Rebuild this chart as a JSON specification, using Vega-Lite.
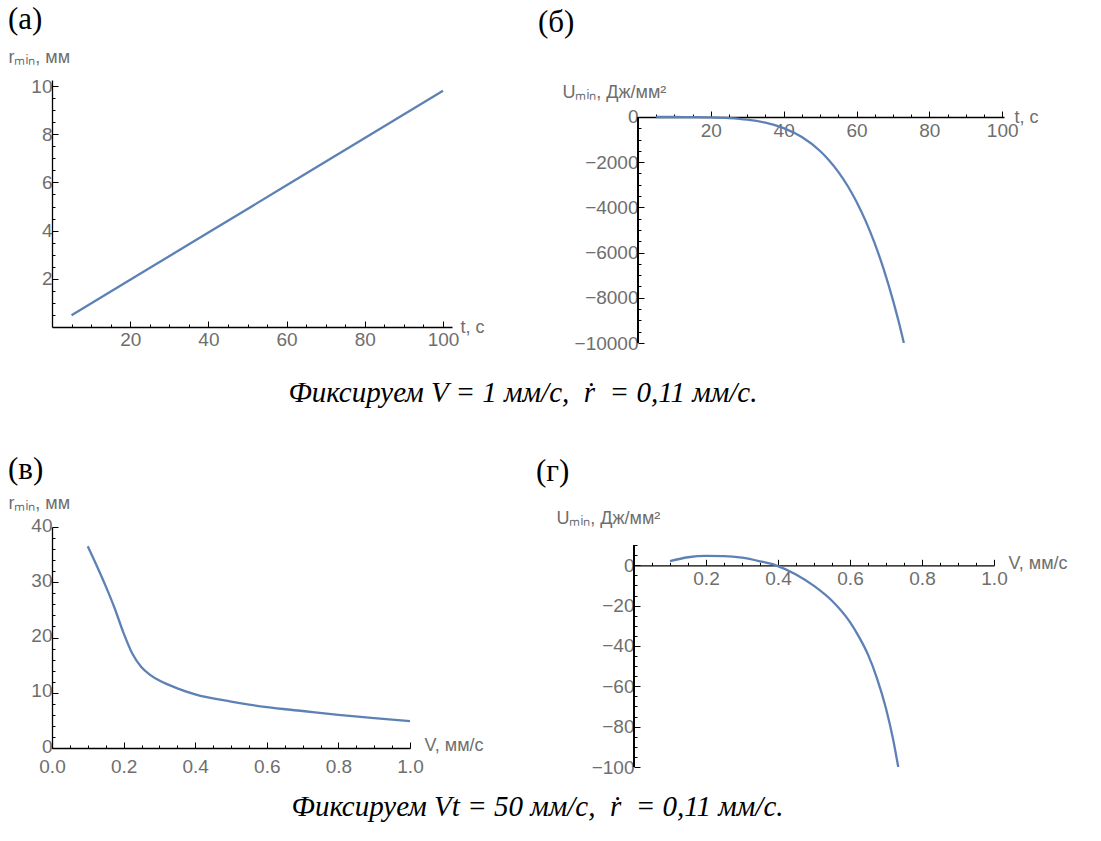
{
  "$schema": "https://vega.github.io/schema/vega-lite/v6.json",
  "background": "white",
  "padding": {"left": 8, "top": 4, "right": 5, "bottom": 5},
  "datasets": {
    "a": [{"t": 5, "r": 0.49}, {"t": 20, "r": 1.96}, {"t": 40, "r": 3.92}, {"t": 60, "r": 5.88}, {"t": 80, "r": 7.84}, {"t": 100, "r": 9.8}],
    "b": [{"t": 5, "U": 0}, {"t": 10, "U": -0.5}, {"t": 15, "U": -4}, {"t": 20, "U": -15}, {"t": 25, "U": -47}, {"t": 30, "U": -117}, {"t": 35, "U": -253}, {"t": 40, "U": -494}, {"t": 45, "U": -889}, {"t": 50, "U": -1506}, {"t": 52.5, "U": -1922}, {"t": 55, "U": -2425}, {"t": 57.5, "U": -3030}, {"t": 60, "U": -3748}, {"t": 62.5, "U": -4597}, {"t": 65, "U": -5592}, {"t": 67.5, "U": -6754}, {"t": 70, "U": -8101}, {"t": 71.5, "U": -9007}, {"t": 72.5, "U": -9655}, {"t": 73, "U": -10000}],
    "c": [{"V": 0.1, "r": 36.5}, {"V": 0.125, "r": 33}, {"V": 0.15, "r": 29.3}, {"V": 0.175, "r": 25.3}, {"V": 0.2, "r": 20.8}, {"V": 0.225, "r": 17}, {"V": 0.25, "r": 14.6}, {"V": 0.275, "r": 13.2}, {"V": 0.3, "r": 12.2}, {"V": 0.35, "r": 10.8}, {"V": 0.4, "r": 9.7}, {"V": 0.5, "r": 8.4}, {"V": 0.6, "r": 7.4}, {"V": 0.7, "r": 6.7}, {"V": 0.8, "r": 6.0}, {"V": 0.9, "r": 5.4}, {"V": 1.0, "r": 4.85}],
    "d": [{"V": 0.1, "U": 2.1}, {"V": 0.15, "U": 4.0}, {"V": 0.2, "U": 4.7}, {"V": 0.25, "U": 4.6}, {"V": 0.3, "U": 3.8}, {"V": 0.35, "U": 2.0}, {"V": 0.394, "U": 0}, {"V": 0.45, "U": -4.5}, {"V": 0.5, "U": -10.2}, {"V": 0.55, "U": -17.6}, {"V": 0.6, "U": -28.2}, {"V": 0.625, "U": -35.5}, {"V": 0.65, "U": -44.3}, {"V": 0.675, "U": -56}, {"V": 0.7, "U": -71}, {"V": 0.72, "U": -86.5}, {"V": 0.734, "U": -100}]
  },
  "spacing": 46,
  "vconcat": [
    {
      "spacing": 53,
      "title": {"text": "Фиксируем V = 1 мм/с,\u00a0 ṙ \u00a0= 0,11 мм/с.", "orient": "bottom", "anchor": "middle", "offset": 26, "font": "Liberation Serif", "fontStyle": "italic", "fontSize": 29, "fontWeight": "normal", "color": "#000"},
      "hconcat": [
        {
          "width": 400, "height": 247,
          "title": {"text": "(а)", "anchor": "start", "frame": "group", "dx": -44, "offset": 12, "font": "Liberation Serif", "fontSize": 31, "fontWeight": "normal", "color": "#000"},
          "data": {"name": "a"},
          "layer": [
            {
              "mark": {"type": "line", "color": "#5e81b5", "strokeWidth": 2.3},
              "encoding": {
                "x": {"field": "t", "type": "quantitative", "scale": {"domain": [0, 102.3], "nice": false},
                  "axis": {"values": [20, 40, 60, 80, 100], "tickSize": -6, "labelPadding": 9, "title": "t, с", "titleX": 408, "titleY": 0, "titleAlign": "left", "titleBaseline": "middle"}},
                "y": {"field": "r", "type": "quantitative", "scale": {"domain": [0, 10.25], "nice": false},
                  "axis": {"values": [2, 4, 6, 8, 10], "tickSize": -6, "labelPadding": 6, "title": "rₘᵢₙ, мм", "titleX": -44, "titleY": -18, "titleAlign": "left", "titleBaseline": "alphabetic", "titleAngle": 0}}
              }
            },
            {
              "mark": {"type": "line", "opacity": 0},
              "encoding": {
                "x": {"field": "t", "type": "quantitative", "scale": {"domain": [0, 102.3], "nice": false},
                  "axis": {"orient": "bottom", "values": [5, 10, 15, 25, 30, 35, 45, 50, 55, 65, 70, 75, 85, 90, 95], "tickSize": -3, "labels": false, "domain": false, "title": null}},
                "y": {"field": "r", "type": "quantitative", "scale": {"domain": [0, 10.25], "nice": false},
                  "axis": {"orient": "left", "values": [0.5, 1, 1.5, 2.5, 3, 3.5, 4.5, 5, 5.5, 6.5, 7, 7.5, 8.5, 9, 9.5], "tickSize": -3, "labels": false, "domain": false, "title": null}}
              }
            }
          ],
          "resolve": {"axis": {"x": "independent", "y": "independent"}}
        },
        {
          "width": 366, "height": 263,
          "title": {"text": "(б)", "anchor": "start", "frame": "group", "dx": -100, "offset": 41, "font": "Liberation Serif", "fontSize": 31, "fontWeight": "normal", "color": "#000"},
          "data": {"name": "b"},
          "layer": [
            {
              "mark": {"type": "rule", "color": "#000", "strokeWidth": 1.3},
              "encoding": {
                "x": {"datum": 0, "type": "quantitative", "scale": {"domain": [0, 100.5], "nice": false}, "axis": null},
                "y": {"datum": -10000, "type": "quantitative", "scale": {"domain": [-10000, 1637], "nice": false}, "axis": null},
                "y2": {"datum": 0}
              }
            },
            {
              "mark": {"type": "line", "color": "#5e81b5", "strokeWidth": 2.3, "clip": true, "interpolate": "monotone"},
              "encoding": {
                "x": {"field": "t", "type": "quantitative", "scale": {"domain": [0, 100.5], "nice": false},
                  "axis": {"orient": "bottom", "offset": -226, "values": [20, 40, 60, 80, 100], "tickSize": -6, "labelPadding": 10, "title": "t, с", "titleX": 376, "titleY": 0, "titleAlign": "left", "titleBaseline": "middle"}},
                "y": {"field": "U", "type": "quantitative", "scale": {"domain": [-10000, 1637], "nice": false},
                  "axis": {"values": [-10000, -8000, -6000, -4000, -2000, 0], "format": "d", "domain": false, "tickSize": -6, "labelPadding": 6, "title": "Uₘᵢₙ, Дж/мм²", "titleX": -76, "titleY": 17, "titleAlign": "left", "titleBaseline": "alphabetic", "titleAngle": 0}}
              }
            },
            {
              "mark": {"type": "line", "opacity": 0},
              "encoding": {
                "x": {"field": "t", "type": "quantitative", "scale": {"domain": [0, 100.5], "nice": false},
                  "axis": {"orient": "bottom", "offset": -226, "values": [5, 10, 15, 25, 30, 35, 45, 50, 55, 65, 70, 75, 85, 90, 95], "tickSize": -3, "labels": false, "domain": false, "title": null}},
                "y": {"field": "U", "type": "quantitative", "scale": {"domain": [-10000, 1637], "nice": false},
                  "axis": {"orient": "left", "values": [-9500, -9000, -8500, -7500, -7000, -6500, -5500, -5000, -4500, -3500, -3000, -2500, -1500, -1000, -500], "tickSize": -3, "labels": false, "domain": false, "title": null}}
              }
            }
          ],
          "resolve": {"axis": {"x": "independent", "y": "independent"}}
        }
      ]
    },
    {
      "spacing": 52,
      "title": {"text": "Фиксируем Vt = 50 мм/с,\u00a0 ṙ \u00a0= 0,11 мм/с.", "orient": "bottom", "anchor": "middle", "offset": 16, "font": "Liberation Serif", "fontStyle": "italic", "fontSize": 29, "fontWeight": "normal", "color": "#000"},
      "hconcat": [
        {
          "width": 358, "height": 221,
          "title": {"text": "(в)", "anchor": "start", "frame": "group", "dx": -44, "offset": 8, "font": "Liberation Serif", "fontSize": 31, "fontWeight": "normal", "color": "#000"},
          "data": {"name": "c"},
          "layer": [
            {
              "mark": {"type": "line", "color": "#5e81b5", "strokeWidth": 2.3, "interpolate": "monotone"},
              "encoding": {
                "x": {"field": "V", "type": "quantitative", "scale": {"domain": [0, 1.0], "nice": false},
                  "axis": {"values": [0, 0.2, 0.4, 0.6, 0.8, 1.0], "format": ".1f", "tickSize": -6, "labelPadding": 15, "title": "V, мм/с", "titleX": 372, "titleY": -3, "titleAlign": "left", "titleBaseline": "middle"}},
                "y": {"field": "r", "type": "quantitative", "scale": {"domain": [0, 40], "nice": false},
                  "axis": {"values": [0, 10, 20, 30, 40], "tickSize": -6, "labelPadding": 6, "labelOffset": -2, "title": "rₘᵢₙ, мм", "titleX": -44, "titleY": -19, "titleAlign": "left", "titleBaseline": "alphabetic", "titleAngle": 0}}
              }
            },
            {
              "mark": {"type": "line", "opacity": 0},
              "encoding": {
                "x": {"field": "V", "type": "quantitative", "scale": {"domain": [0, 1.0], "nice": false},
                  "axis": {"orient": "bottom", "values": [0.05, 0.1, 0.15, 0.25, 0.3, 0.35, 0.45, 0.5, 0.55, 0.65, 0.7, 0.75, 0.85, 0.9, 0.95], "tickSize": -3, "labels": false, "domain": false, "title": null}},
                "y": {"field": "r", "type": "quantitative", "scale": {"domain": [0, 40], "nice": false},
                  "axis": {"orient": "left", "values": [2, 4, 6, 8, 12, 14, 16, 18, 22, 24, 26, 28, 32, 34, 36, 38], "tickSize": -3, "labels": false, "domain": false, "title": null}}
              }
            }
          ],
          "resolve": {"axis": {"x": "independent", "y": "independent"}}
        },
        {
          "width": 360, "height": 240,
          "title": {"text": "(г)", "anchor": "start", "frame": "group", "dx": -98, "offset": 21, "font": "Liberation Serif", "fontSize": 31, "fontWeight": "normal", "color": "#000"},
          "data": {"name": "d"},
          "layer": [
            {
              "mark": {"type": "rule", "color": "#000", "strokeWidth": 1.3},
              "encoding": {
                "x": {"datum": 0, "type": "quantitative", "scale": {"domain": [0, 1.0], "nice": false}, "axis": null},
                "y": {"datum": -100, "type": "quantitative", "scale": {"domain": [-100, 19], "nice": false}, "axis": null},
                "y2": {"datum": 10}
              }
            },
            {
              "mark": {"type": "line", "color": "#5e81b5", "strokeWidth": 2.3, "clip": true, "interpolate": "monotone"},
              "encoding": {
                "x": {"field": "V", "type": "quantitative", "scale": {"domain": [0, 1.0], "nice": false},
                  "axis": {"orient": "bottom", "offset": -201.7, "values": [0.2, 0.4, 0.6, 0.8, 1.0], "format": ".1f", "tickSize": -6, "labelPadding": 10, "title": "V, мм/с", "titleX": 374, "titleY": -2, "titleAlign": "left", "titleBaseline": "middle"}},
                "y": {"field": "U", "type": "quantitative", "scale": {"domain": [-100, 19], "nice": false},
                  "axis": {"values": [-100, -80, -60, -40, -20, 0], "format": "d", "domain": false, "tickSize": -6, "labelPadding": 6, "title": "Uₘᵢₙ, Дж/мм²", "titleX": -78, "titleY": -4, "titleAlign": "left", "titleBaseline": "alphabetic", "titleAngle": 0}}
              }
            },
            {
              "mark": {"type": "line", "opacity": 0},
              "encoding": {
                "x": {"field": "V", "type": "quantitative", "scale": {"domain": [0, 1.0], "nice": false},
                  "axis": {"orient": "bottom", "offset": -201.7, "values": [0.05, 0.1, 0.15, 0.25, 0.3, 0.35, 0.45, 0.5, 0.55, 0.65, 0.7, 0.75, 0.85, 0.9, 0.95], "tickSize": -3, "labels": false, "domain": false, "title": null}},
                "y": {"field": "U", "type": "quantitative", "scale": {"domain": [-100, 19], "nice": false},
                  "axis": {"orient": "left", "values": [-95, -90, -85, -75, -70, -65, -55, -50, -45, -35, -30, -25, -15, -10, -5, 5, 10], "tickSize": -3, "labels": false, "domain": false, "title": null}}
              }
            }
          ],
          "resolve": {"axis": {"x": "independent", "y": "independent"}}
        }
      ]
    }
  ],
  "config": {
    "view": {"stroke": null},
    "axis": {"grid": false, "labelFlush": false, "labelOverlap": false, "domainColor": "#000", "domainWidth": 1.3, "tickColor": "#000", "tickWidth": 1, "labelColor": "#6e6e6e", "labelFont": "Liberation Sans", "labelFontSize": 19, "titleFont": "Liberation Sans", "titleFontSize": 18, "titleFontWeight": "normal", "titleColor": "#6e6e6e"},
    "title": {"font": "Liberation Serif", "fontWeight": "normal", "color": "#000"}
  }
}
